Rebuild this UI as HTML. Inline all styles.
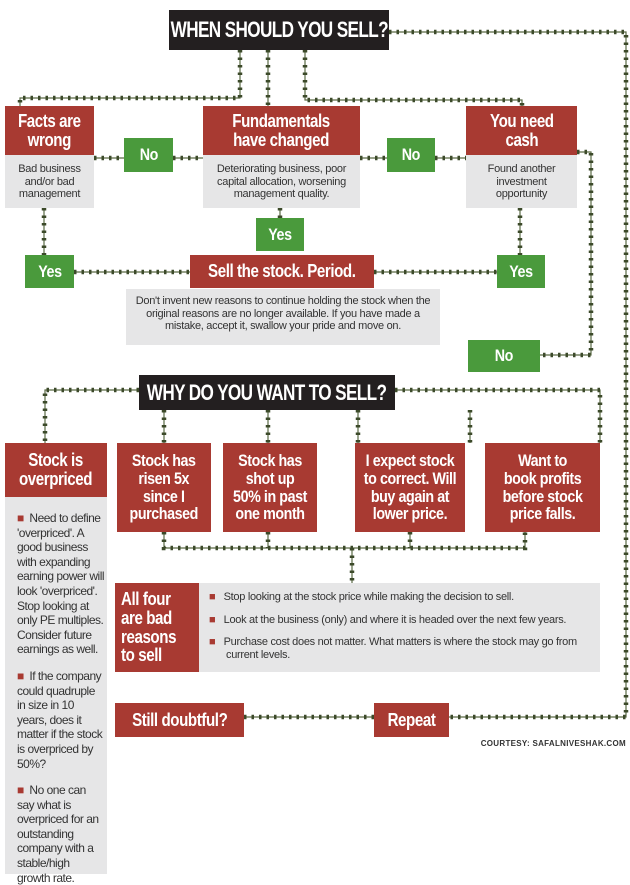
<!DOCTYPE html>
<html><head><meta charset="utf-8"><style>
body{margin:0;width:630px;height:874px;background:#fff;position:relative;overflow:hidden;font-family:"Liberation Sans",sans-serif}
.a{position:absolute;box-sizing:border-box}
.red{background:#a83a32;color:#fff;font-weight:bold;text-align:center;letter-spacing:-0.5px;display:flex;align-items:center;justify-content:center;line-height:1.05;white-space:nowrap}
.red span,.blk span,.grn span{display:inline-block;transform:scaleX(0.84)}
.grn{background:#4a9a3c;color:#fff;font-weight:bold;font-size:17px;display:flex;align-items:center;justify-content:center;letter-spacing:-0.5px}
.blk{background:#231f20;color:#fff;font-weight:bold;font-size:22px;display:flex;align-items:center;justify-content:center;letter-spacing:-0.8px;white-space:nowrap}
.blk span{transform:scaleX(0.78)}
.gry{background:#e6e6e7;color:#333;font-size:11px;text-align:center;line-height:1.15;padding-top:8px;letter-spacing:-0.3px}
svg{position:absolute;left:0;top:0}
</style></head><body>
<svg width="630" height="874">
<g fill="none" stroke="#5b6b45" stroke-width="1.2">
<path d="M389 32H626V717H449 M374 717H244 M240 50V98H20V106 M268 50V106 M305 50V100H522V106 M94 158H124 M173 158H203 M360 158H387 M435 158H466 M44 208V255 M280 208V218 M520 208V255 M74 272H190 M374 272H497 M577 152H591V355H540 M139 390H45V443 M395 390H600V443 M164 410V443 M268 410V443 M358 410V443 M470 410V443 M164 532V548H525V532 M268 532V548 M410 532V548 M352 548V583"/>
</g>
<g fill="none" stroke="#3c4a2a" stroke-width="4.5" stroke-dasharray="2.5 5">
<path d="M389 32H626V717H449 M374 717H244 M240 50V98H20V106 M268 50V106 M305 50V100H522V106 M94 158H124 M173 158H203 M360 158H387 M435 158H466 M44 208V255 M280 208V218 M520 208V255 M74 272H190 M374 272H497 M577 152H591V355H540 M139 390H45V443 M395 390H600V443 M164 410V443 M268 410V443 M358 410V443 M470 410V443 M164 532V548H525V532 M268 532V548 M410 532V548 M352 548V583"/>
</g>
</svg>
<div class="a blk" style="left:169px;top:10px;width:220px;height:40px"><span>WHEN SHOULD YOU SELL?</span></div>
<div class="a red" style="left:5px;top:106px;width:89px;height:49px;font-size:18px"><span>Facts are<br>wrong</span></div>
<div class="a gry" style="left:5px;top:155px;width:89px;height:53px">Bad business<br>and/or bad<br>management</div>
<div class="a red" style="left:203px;top:106px;width:157px;height:49px;font-size:18px"><span>Fundamentals<br>have changed</span></div>
<div class="a gry" style="left:203px;top:155px;width:157px;height:53px">Deteriorating business, poor capital allocation, worsening management quality.</div>
<div class="a red" style="left:466px;top:106px;width:111px;height:49px;font-size:18px"><span>You need<br>cash</span></div>
<div class="a gry" style="left:466px;top:155px;width:111px;height:53px">Found another<br>investment<br>opportunity</div>
<div class="a grn" style="left:124px;top:138px;width:49px;height:34px"><span>No</span></div>
<div class="a grn" style="left:387px;top:138px;width:48px;height:34px"><span>No</span></div>
<div class="a grn" style="left:256px;top:218px;width:48px;height:33px"><span>Yes</span></div>
<div class="a grn" style="left:25px;top:255px;width:49px;height:33px"><span>Yes</span></div>
<div class="a red" style="left:190px;top:255px;width:184px;height:33px;font-size:18px"><span>Sell the stock. Period.</span></div>
<div class="a grn" style="left:497px;top:255px;width:48px;height:33px"><span>Yes</span></div>
<div class="a gry" style="left:126px;top:289px;width:314px;height:56px;padding:6px 8px">Don't invent new reasons to continue holding the stock when the original reasons are no longer available. If you have made a mistake, accept it, swallow your pride and move on.</div>
<div class="a grn" style="left:468px;top:340px;width:72px;height:32px"><span>No</span></div>
<div class="a blk" style="left:139px;top:375px;width:256px;height:35px"><span>WHY DO YOU WANT TO SELL?</span></div>
<div class="a gry" style="left:5px;top:497px;width:102px;height:377px;text-align:left;padding:14px 2px 0 12px;font-size:12px;line-height:14.6px;letter-spacing:-0.5px">
<div style="margin-bottom:12px"><span style="color:#a83a32">■</span>&nbsp;&nbsp;Need to define 'overpriced'. A good business with expanding earning power will look 'overpriced'. Stop looking at only PE multiples. Consider future earnings as well.</div>
<div style="margin-bottom:12px"><span style="color:#a83a32">■</span>&nbsp;&nbsp;If the company could quadruple in size in 10 years, does it matter if the stock is overpriced by 50%?</div>
<div><span style="color:#a83a32">■</span>&nbsp;&nbsp;No one can say what is overpriced for an outstanding company with a stable/high growth rate.</div></div>
<div class="a red" style="left:5px;top:443px;width:102px;height:54px;font-size:18px"><span>Stock is<br>overpriced</span></div>
<div class="a red" style="left:117px;top:443px;width:94px;height:89px;font-size:17px"><span>Stock has<br>risen 5x<br>since I<br>purchased</span></div>
<div class="a red" style="left:223px;top:443px;width:94px;height:89px;font-size:17px"><span>Stock has<br>shot up<br>50% in past<br>one month</span></div>
<div class="a red" style="left:355px;top:443px;width:110px;height:89px;font-size:17px"><span>I expect stock<br>to correct. Will<br>buy again at<br>lower price.</span></div>
<div class="a red" style="left:485px;top:443px;width:115px;height:89px;font-size:17px"><span>Want to<br>book profits<br>before stock<br>price falls.</span></div>
<div class="a red" style="left:115px;top:583px;width:84px;height:89px;font-size:18px;justify-content:flex-start;text-align:left;padding-left:6px"><span style="transform-origin:left">All four<br>are bad<br>reasons<br>to sell</span></div>
<div class="a gry" style="left:199px;top:583px;width:401px;height:89px;text-align:left;padding:8px 8px 0 10px;font-size:11px">
<div style="margin-bottom:10px"><span style="color:#a83a32">■</span>&nbsp;&nbsp;&nbsp;Stop looking at the stock price while making the decision to sell.</div>
<div style="margin-bottom:10px"><span style="color:#a83a32">■</span>&nbsp;&nbsp;&nbsp;Look at the business (only) and where it is headed over the next few years.</div>
<div style="padding-left:17px;text-indent:-17px"><span style="color:#a83a32">■</span>&nbsp;&nbsp;&nbsp;Purchase cost does not matter. What matters is where the stock may go from current levels.</div></div>
<div class="a red" style="left:115px;top:703px;width:129px;height:34px;font-size:18px"><span>Still doubtful?</span></div>
<div class="a red" style="left:374px;top:703px;width:75px;height:34px;font-size:18px"><span>Repeat</span></div>
<div class="a" style="right:4px;top:739px;font-size:8px;font-weight:bold;color:#333;letter-spacing:0.3px">COURTESY: SAFALNIVESHAK.COM</div>
</body></html>
